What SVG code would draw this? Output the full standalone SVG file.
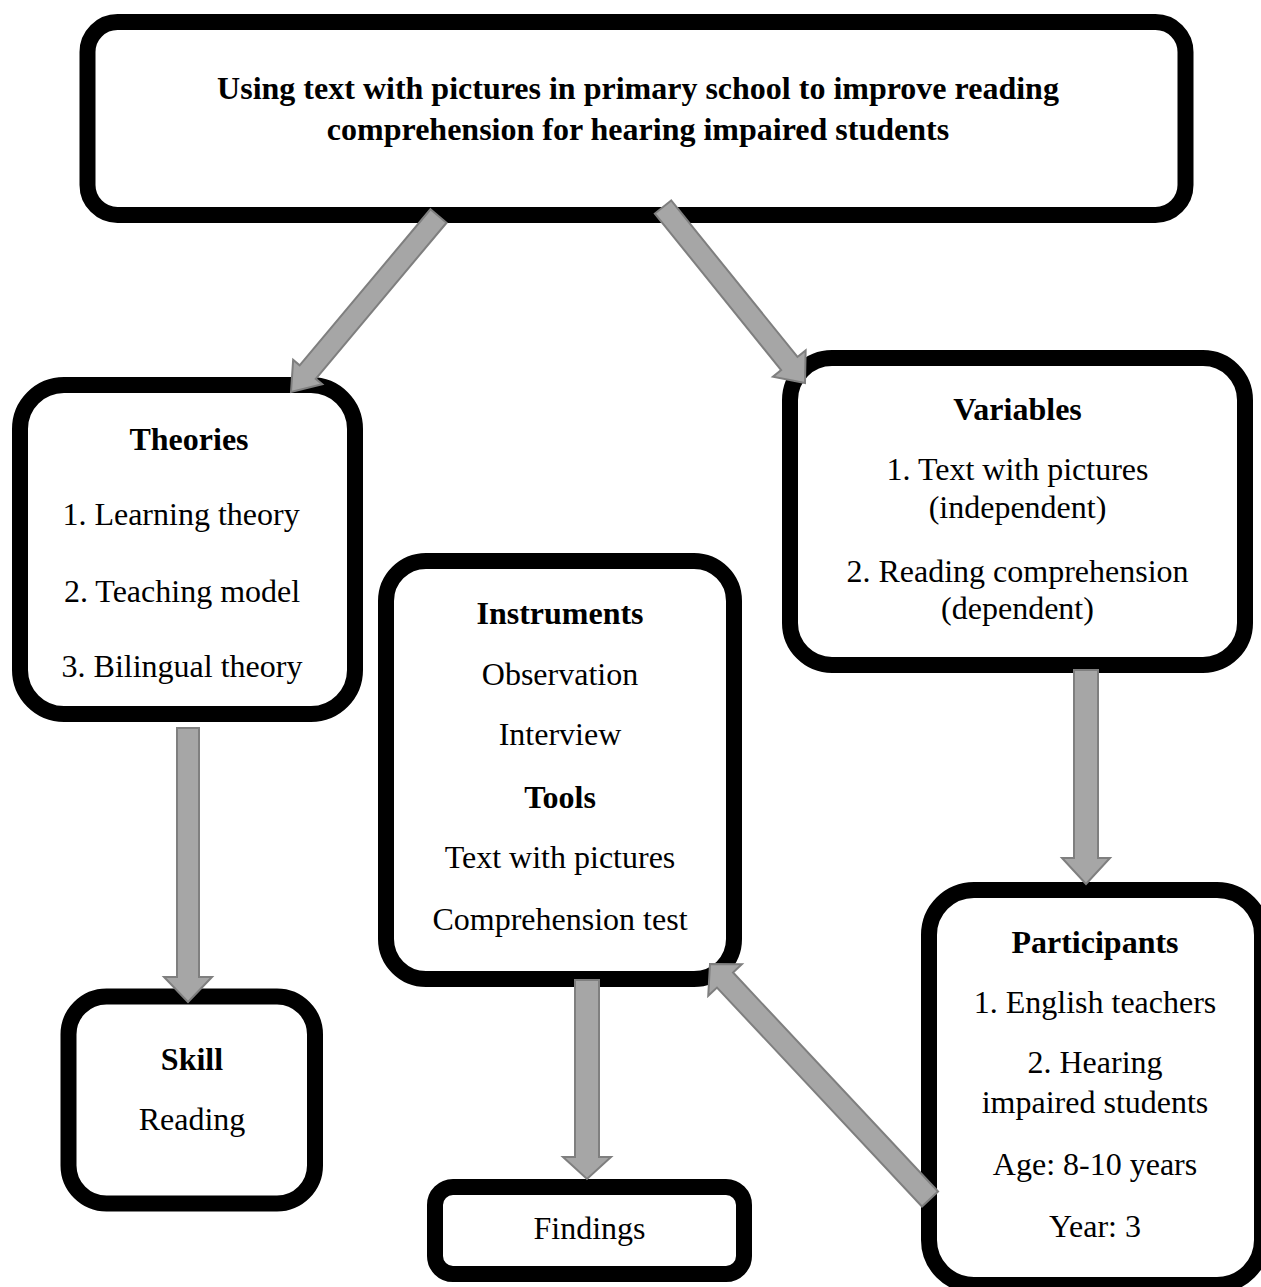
<svg xmlns="http://www.w3.org/2000/svg" width="1261" height="1287" viewBox="0 0 1261 1287">
  <style>
    .box { fill: #ffffff; stroke: #000000; stroke-width: 16; }
    .t { font-family: "Liberation Serif", "Times New Roman", serif; font-size: 32px; fill: #000000; text-anchor: middle; }
    .b { font-weight: bold; }
    .arrow { fill: #a6a6a6; stroke: #7f7f7f; stroke-width: 2; stroke-linejoin: miter; }
  </style>
  <rect width="1261" height="1287" fill="#ffffff"/>

  <g id="node-title">
    <rect class="box" x="87.5" y="22" width="1098" height="193" rx="30" ry="30"/>
    <text class="t b" x="638" y="99">Using text with pictures in primary school to improve reading</text>
    <text class="t b" x="638" y="140">comprehension for hearing impaired students</text>
  </g>

  <g id="node-theories">
    <rect class="box" x="20" y="385" width="335" height="329" rx="44" ry="44"/>
    <text class="t b" x="189" y="450">Theories</text>
    <text class="t" x="181" y="525">1. Learning theory</text>
    <text class="t" x="182" y="602">2. Teaching model</text>
    <text class="t" x="182" y="677">3. Bilingual theory</text>
  </g>

  <g id="node-variables">
    <rect class="box" x="790" y="358" width="455" height="307" rx="42" ry="42"/>
    <text class="t b" x="1017.5" y="420">Variables</text>
    <text class="t" x="1017.5" y="480">1. Text with pictures</text>
    <text class="t" x="1017.5" y="518">(independent)</text>
    <text class="t" x="1017.5" y="582">2. Reading comprehension</text>
    <text class="t" x="1017.5" y="619">(dependent)</text>
  </g>

  <g id="node-instruments">
    <rect class="box" x="386" y="561" width="348" height="418" rx="40" ry="40"/>
    <text class="t b" x="560" y="624">Instruments</text>
    <text class="t" x="560" y="685">Observation</text>
    <text class="t" x="560" y="745">Interview</text>
    <text class="t b" x="560" y="808">Tools</text>
    <text class="t" x="560" y="868">Text with pictures</text>
    <text class="t" x="560" y="930">Comprehension test</text>
  </g>

  <g id="node-participants">
    <rect class="box" x="929" y="890" width="333" height="395" rx="45" ry="45"/>
    <text class="t b" x="1095" y="953">Participants</text>
    <text class="t" x="1095" y="1013">1. English teachers</text>
    <text class="t" x="1095" y="1073">2. Hearing</text>
    <text class="t" x="1095" y="1113">impaired students</text>
    <text class="t" x="1095" y="1175">Age: 8-10 years</text>
    <text class="t" x="1095" y="1237">Year: 3</text>
  </g>

  <g id="node-skill">
    <rect class="box" x="68.5" y="996.5" width="246.5" height="207" rx="38" ry="38"/>
    <text class="t b" x="192" y="1070">Skill</text>
    <text class="t" x="192" y="1130">Reading</text>
  </g>

  <g id="node-findings">
    <rect class="box" x="435" y="1187" width="309" height="87" rx="18" ry="18"/>
    <text class="t" x="589.5" y="1239">Findings</text>
  </g>

  <g id="connectors">
    <polygon class="arrow" points="430.45,209.25 446.55,222.75 315.75,378.82 322.26,384.28 291,392 293.14,359.86 299.65,365.32"/>
    <polygon class="arrow" points="671.17,200.41 654.83,213.59 781.13,370.13 772.95,376.73 805,383 805.65,350.35 797.47,356.95"/>
    <polygon class="arrow" points="177,728 199,728 199,977 212,977 188,1002 164,977 177,977"/>
    <polygon class="arrow" points="1074,670 1098,670 1098,858 1110,858 1086,884 1062,858 1074,858"/>
    <polygon class="arrow" points="575,980 599,980 599,1157 611,1157 587,1179 563,1157 575,1157"/>
    <polygon class="arrow" points="938.03,1191.48 921.97,1206.52 716.99,987.58 708.24,995.78 710,964 741.82,964.34 733.06,972.54"/>
  </g>
</svg>
